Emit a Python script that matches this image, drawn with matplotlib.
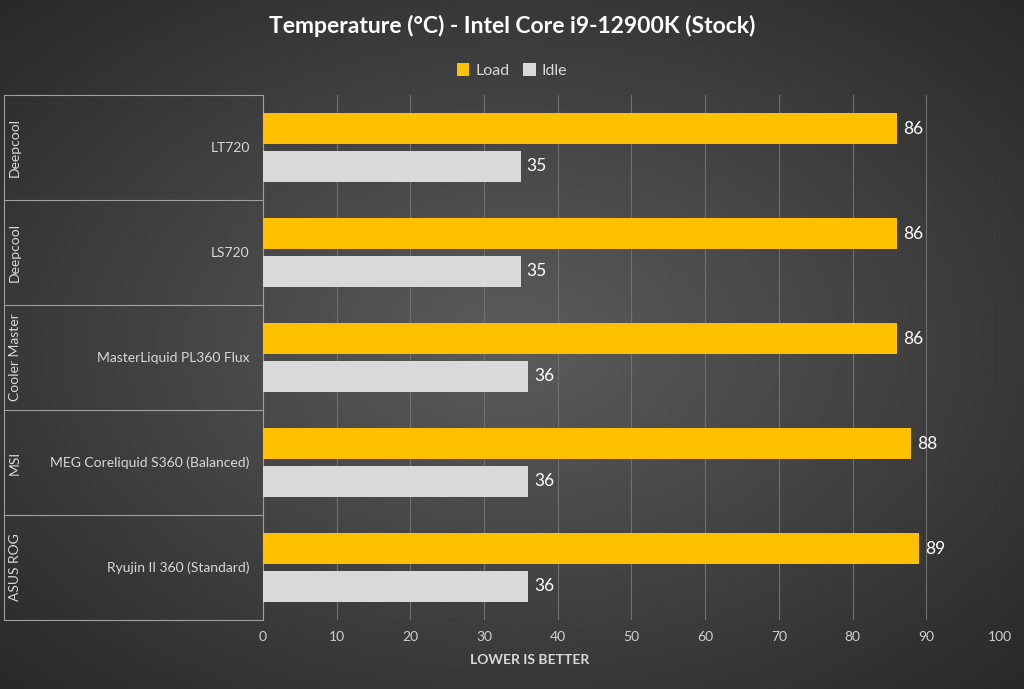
import numpy as np
import matplotlib.pyplot as plt

brands = ["Deepcool", "Deepcool", "Cooler Master", "MSI", "ASUS ROG"]
models = ["LT720", "LS720", "MasterLiquid PL360 Flux",
          "MEG Coreliquid S360 (Balanced)", "Ryujin II 360 (Standard)"]
load = [86, 86, 86, 88, 89]
idle = [35, 35, 36, 36, 36]

plt.rcParams["font.family"] = "Lato"
fig = plt.figure(figsize=(10.24, 6.89), dpi=100)

# radial gradient background
bg = fig.add_axes([0, 0, 1, 1])
yy, xx = np.mgrid[-1:1:300j, -1:1:450j]
r = np.sqrt(xx**2 + yy**2) / np.sqrt(2)
bg.imshow(0.36 - 0.2 * r, cmap="gray", vmin=0, vmax=1, aspect="auto", extent=[0, 1, 0, 1])
bg.set_xlim(0, 1); bg.set_ylim(0, 1); bg.axis("off")

ax = fig.add_axes([0.2568, 0.1001, 0.7197, 0.762])
ax.patch.set_alpha(0)
n = len(models)
y = np.arange(n)
h = 0.3
ax.barh(y - 0.18, load, height=h, color="#FFC000", label="Load", zorder=3)
ax.barh(y + 0.18, idle, height=h, color="#D9D9D9", label="Idle", zorder=3)
for i in range(n):
    ax.text(load[i] + 0.8, y[i] - 0.18, str(load[i]), color="white", fontsize=12.5, va="center")
    ax.text(idle[i] + 0.8, y[i] + 0.18, str(idle[i]), color="white", fontsize=12.5, va="center")
ax.set_xlim(0, 100)
ax.set_ylim(n - 0.5, -0.5)
ax.set_xticks(range(0, 101, 10))
ax.tick_params(axis="x", colors="#d0d0d0", labelsize=10, length=0, pad=8)
ax.set_yticks([])
ax.grid(axis="x", color="#707070", lw=0.8, zorder=0)
for s in ["top", "right", "bottom"]:
    ax.spines[s].set_visible(False)
ax.spines["left"].set_color("#a0a0a0")
ax.set_xlabel("LOWER IS BETTER", color="#d8d8d8", fontsize=10, fontweight="bold", labelpad=6)
ax.xaxis.set_label_coords(0.362, -0.065)

# category area
for i in range(n):
    ax.text(-1.8, y[i], models[i], color="#d8d8d8", fontsize=10, ha="right", va="center")
    ax.text(-33.7, y[i], brands[i], color="#d8d8d8", fontsize=10, ha="center", va="center", rotation=90)
for k in range(n + 1):
    ax.plot([-35.1, 0], [k - 0.5, k - 0.5], color="#a0a0a0", lw=0.8, clip_on=False)
ax.plot([-35.1, -35.1], [-0.5, n - 0.5], color="#a0a0a0", lw=0.8, clip_on=False)

fig.text(0.5, 0.962, "Temperature (°C) - Intel Core i9-12900K (Stock)", color="white",
         fontsize=16.5, fontweight="bold", ha="center", va="center")
ax.legend(loc="lower center", bbox_to_anchor=(0.338, 1.005), ncol=2, frameon=False,
          labelcolor="#d8d8d8", fontsize=11.5, handlelength=0.8, handleheight=0.8,
          columnspacing=0.8, handletextpad=0.4)
fig.savefig("out.png", dpi=100)
